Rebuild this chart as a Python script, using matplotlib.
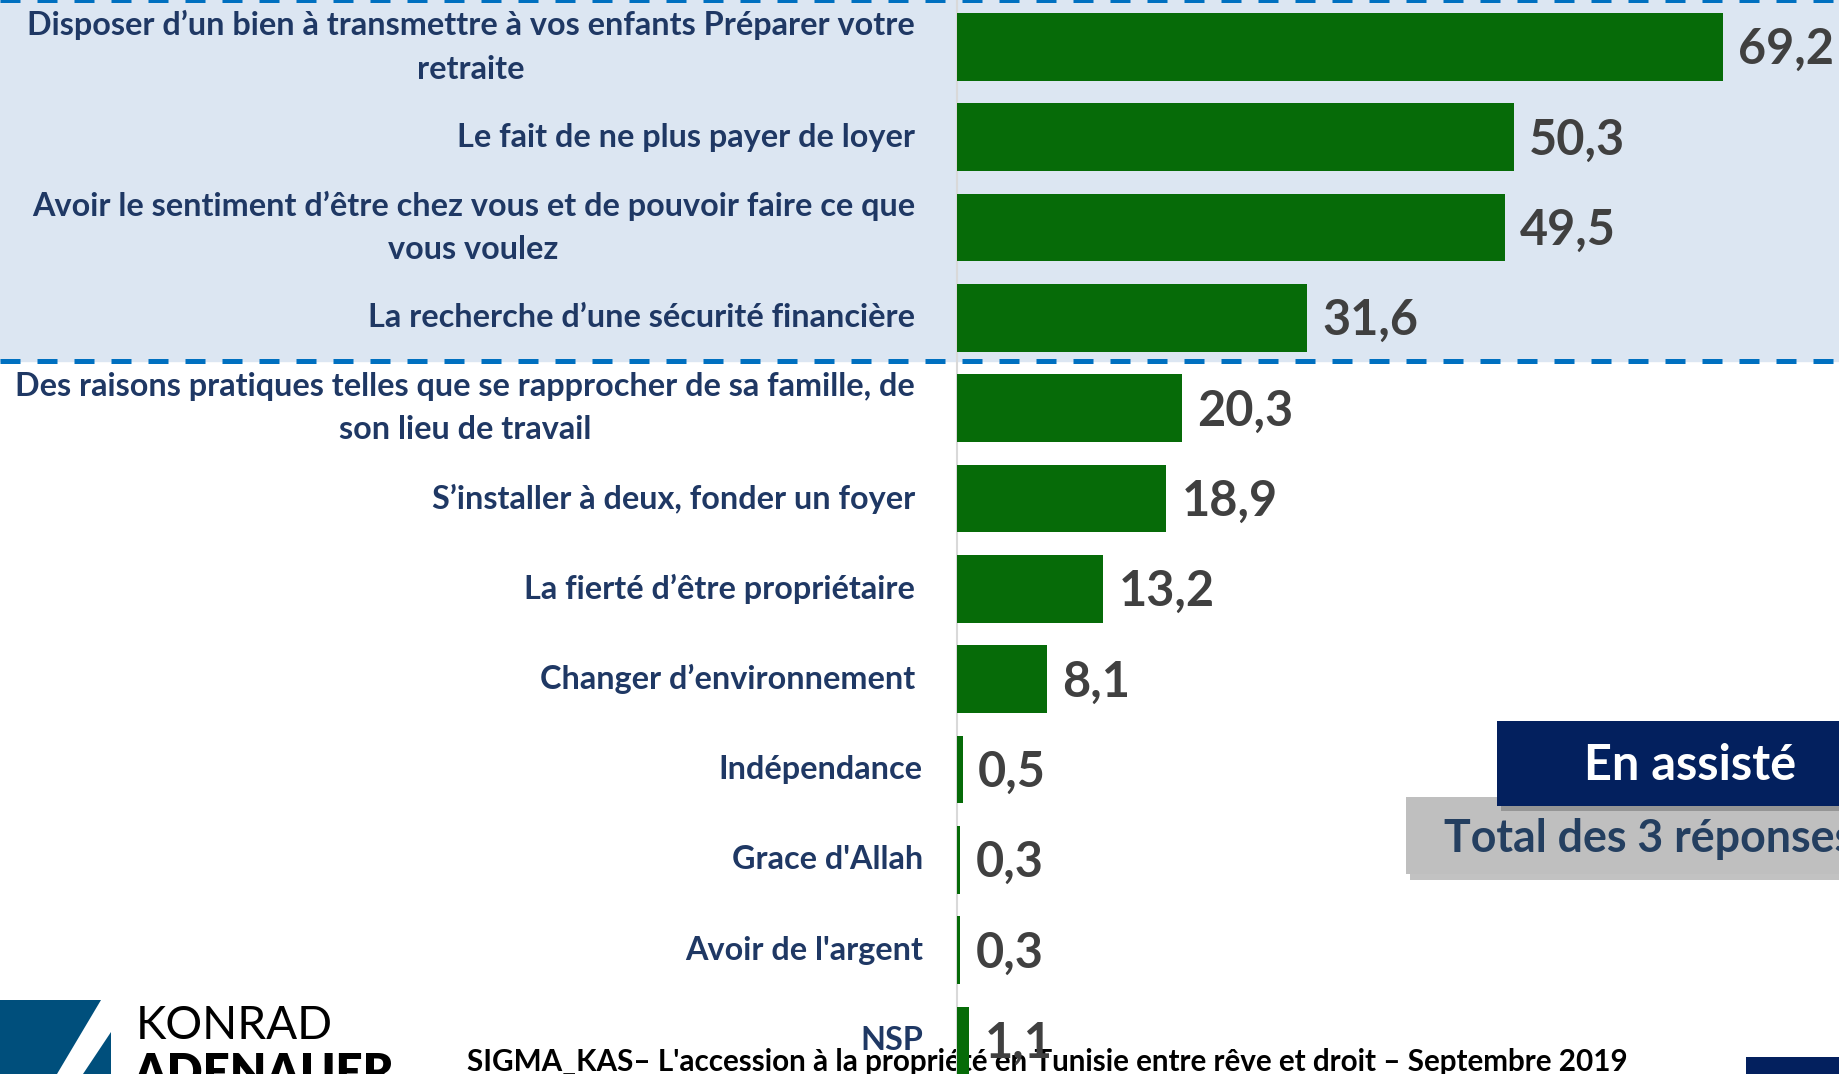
import matplotlib.pyplot as plt
from matplotlib.patches import Rectangle, Polygon

# === data ===
categories = [
    "Disposer d\u2019un bien à transmettre à vos enfants Préparer votre\nretraite",
    "Le fait de ne plus payer de loyer",
    "Avoir le sentiment d\u2019être chez vous et de pouvoir faire ce que\nvous voulez",
    "La recherche d\u2019une sécurité financière",
    "Des raisons pratiques telles que se rapprocher de sa famille, de\nson lieu de travail",
    "S\u2019installer à deux, fonder un foyer",
    "La fierté d\u2019être propriétaire",
    "Changer d\u2019environnement",
    "Indépendance",
    "Grace d'Allah",
    "Avoir de l'argent",
    "NSP",
]
values = [69.2, 50.3, 49.5, 31.6, 20.3, 18.9, 13.2, 8.1, 0.5, 0.3, 0.3, 1.1]
value_labels = [f"{v:.1f}".replace('.', ',') for v in values]
n_top = 4  # rows inside the highlighted band

footer = "SIGMA_KAS\u2013 L'accession à la propriété en Tunisie entre rêve et droit \u2013 Septembre 2019"

plt.rcParams['font.family'] = ['Lato', 'DejaVu Sans']

W, H = 1839, 1074
def fx(x):
    return x / W
def fy(y):
    return 1 - y / H

fig = plt.figure(figsize=(W / 100, H / 100), dpi=100)
ax = fig.add_axes([0, 0, 1, 1])
ax.set_facecolor('none')
ax.set_xlim(-86.5, 79.7)
ax.set_ylim(11.37, -0.52)
ax.axis('off')

# highlighted band + dashed separators
band_end = n_top - 0.52
ax.axhspan(-0.52, band_end, color='#DCE6F2', zorder=0)
ax.axhline(band_end, color='#0070C0', lw=3.6, ls=(0, (4, 3.4)), zorder=1)
ax.axhline(-0.52, color='#0070C0', lw=3.6, ls=(0, (4, 3.4)), zorder=1)
ax.axvline(0, color='#D9D9D9', lw=1.5, zorder=1)

# bars
y = list(range(len(values)))
ax.barh(y, values, height=0.75, color='#066B08', zorder=3)

for i, (v, lab) in enumerate(zip(values, value_labels)):
    ax.annotate(lab, (v, i), xytext=(11, -2), textcoords='offset points',
                ha='left', va='center', fontsize=35, fontweight='bold',
                color='#404040', zorder=4)

label_x = [-3.8] * 8 + [-3.1] * 4
for i, c in enumerate(categories):
    ax.text(label_x[i], i, c, ha='right', va='center', multialignment='center',
            fontsize=23.3, fontweight='bold', color='#1F3864', linespacing=1.6)

# boxes on the right
def rect(x0, y0, x1, y1, color, z=5, alpha=1.0):
    r = Rectangle((fx(x0), fy(y1)), fx(x1) - fx(x0), fy(y0) - fy(y1),
                  transform=fig.transFigure, color=color, zorder=z, alpha=alpha, lw=0)
    fig.add_artist(r)

rect(1410, 802, 1845, 880, '#9A9A9A', z=4, alpha=0.6)
rect(1406, 797, 1845, 874, '#BFBFBF', z=5)
rect(1501, 726, 1845, 811, '#7A7A7A', z=6, alpha=0.6)
rect(1497, 721, 1845, 806, '#03205E', z=7)
fig.text(fx(1690), fy(765), "En assisté", ha='center', va='center', fontsize=35,
         fontweight='bold', color='white', zorder=8)
fig.text(fx(1444), fy(839), "Total des 3 réponses", ha='left', va='center', fontsize=32.2,
         fontweight='bold', color='#243F60', zorder=6)

# bottom-right tab
rect(1746, 1057, 1845, 1080, '#03205E', z=7)

# footer (under the chart)
fig.text(fx(467), fy(1071), footer, ha='left', va='baseline', fontsize=21.3,
         fontweight='bold', color='black', zorder=-1)

# logo
logo_blue = '#004F7C'
p1 = Polygon([(fx(0), fy(1000)), (fx(101), fy(1000)), (fx(57), fy(1074)), (fx(0), fy(1074))],
             closed=True, transform=fig.transFigure, color=logo_blue, lw=0)
p2 = Polygon([(fx(111), fy(1032)), (fx(111), fy(1074)), (fx(83), fy(1074))],
             closed=True, transform=fig.transFigure, color=logo_blue, lw=0)
fig.add_artist(p1)
fig.add_artist(p2)
fig.text(fx(136), fy(1039), "KONRAD", ha='left', va='baseline', fontsize=33,
         fontweight='normal', color='black')
fig.text(fx(134), fy(1088), "ADENAUER", ha='left', va='baseline', fontsize=34,
         fontweight='heavy', color='black')

fig.savefig('out.png', dpi=100)
